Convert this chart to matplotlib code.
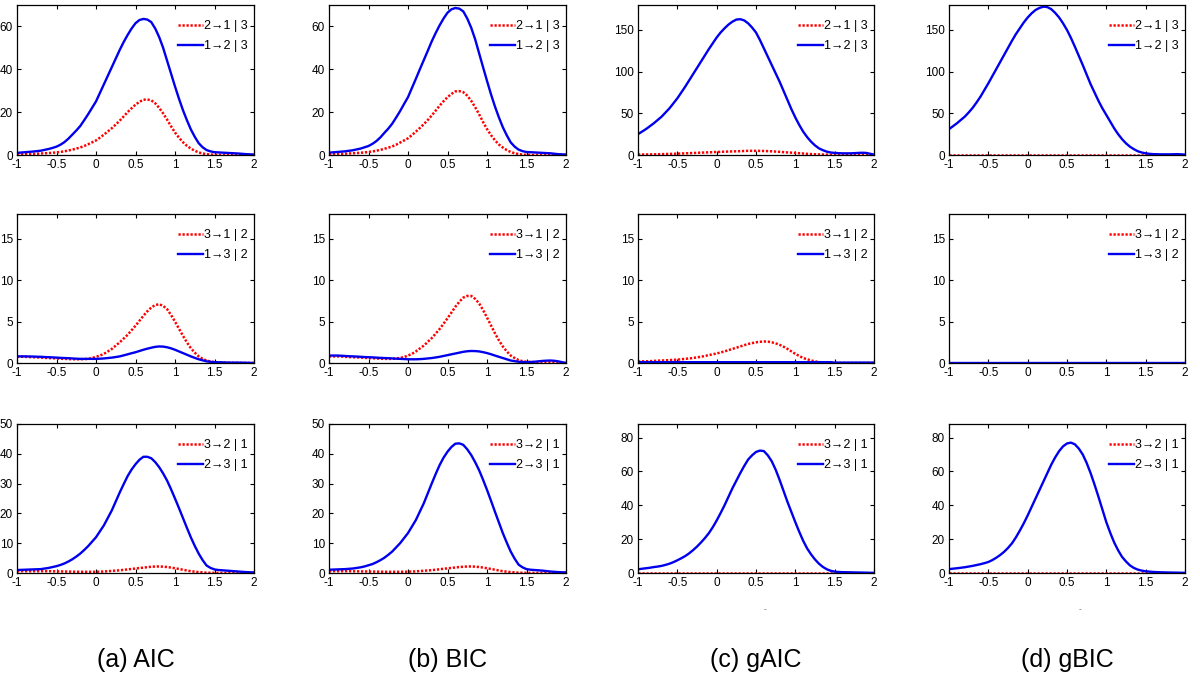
import numpy as np
import matplotlib
matplotlib.use('Agg')
import matplotlib.pyplot as plt

plt.rcParams['font.family'] = ['Liberation Sans Narrow', 'Liberation Sans', 'DejaVu Sans']

# abscisses communes (pas de 0.05)
x = np.round(np.linspace(-1.0, 2.0, 61), 2)

# ligne 1 : 2->1|3 (rouge) et 1->2|3 (bleu)
aic_213 = [0.3, 0.35, 0.4, 0.45, 0.5, 0.6, 0.7, 0.8, 0.9, 1.05,
           1.2, 1.45, 1.7, 2.1, 2.5, 3.0, 3.5, 4.2, 5.0, 5.9,
           6.8, 8.1, 9.5, 11, 12.5, 14.2, 16, 18, 20, 21.8,
           23.5, 24.8, 25.8, 25.9, 25.5, 24.1, 22, 19.4, 16.5, 13.4,
           10.5, 8.1, 6.0, 4.3, 3.0, 2.0, 1.2, 0.7, 0.4, 0.2,
           0.1, 0.05, 0, 0, 0, 0, 0, 0, 0, 0, 0]
aic_123 = [1.0, 1.15, 1.3, 1.45, 1.6, 1.8, 2.0, 2.4, 2.8, 3.3,
           3.9, 4.8, 6.0, 7.6, 9.5, 11.4, 13.5, 16.2, 19, 22,
           25, 29, 33, 37, 41, 45, 49, 52.7, 56, 59,
           61.5, 63, 63.5, 63.2, 62, 59, 55, 50, 44, 38,
           32, 26.3, 21, 16.3, 12, 8.5, 5.5, 3.6, 2.3, 1.7,
           1.3, 1.2, 1.1, 1.0, 0.9, 0.8, 0.7, 0.55, 0.4, 0.3, 0.2]
bic_213 = [0.35, 0.4, 0.45, 0.5, 0.6, 0.7, 0.8, 0.9, 1.05, 1.2,
           1.4, 1.65, 2.0, 2.4, 2.9, 3.4, 4.0, 4.8, 5.8, 6.8,
           7.8, 9.3, 10.9, 12.6, 14.4, 16.3, 18.4, 20.7, 23, 25.1,
           27, 28.5, 29.7, 29.8, 29.3, 27.7, 25.3, 22.3, 19, 15.4,
           12.1, 9.3, 6.9, 4.9, 3.5, 2.3, 1.4, 0.8, 0.45, 0.2,
           0.1, 0.05, 0, 0, 0, 0, 0, 0, 0, 0, 0]
bic_123 = [1.1, 1.25, 1.4, 1.55, 1.7, 1.95, 2.2, 2.6, 3.0, 3.6,
           4.2, 5.2, 6.5, 8.2, 10.3, 12.3, 14.6, 17.5, 20.5, 23.8,
           27, 31.3, 35.6, 40, 44.3, 48.6, 53, 56.9, 60.5, 63.7,
           66.4, 68, 68.6, 68.3, 67, 63.7, 59.4, 54, 47.5, 41,
           34.6, 28.4, 22.7, 17.6, 13, 9.2, 5.9, 3.9, 2.5, 1.8,
           1.4, 1.3, 1.2, 1.1, 1.0, 0.9, 0.8, 0.6, 0.4, 0.3, 0.2]
gaic_213 = [0.5, 0.55, 0.6, 0.7, 0.8, 0.9, 1.0, 1.15, 1.3, 1.45,
            1.6, 1.8, 2.0, 2.2, 2.4, 2.6, 2.8, 3.0, 3.2, 3.4,
            3.6, 3.8, 4.0, 4.15, 4.3, 4.45, 4.6, 4.8, 5.0, 5.0,
            5.0, 4.9, 4.8, 4.6, 4.4, 4.1, 3.8, 3.4, 3.1, 2.8,
            2.5, 2.1, 1.8, 1.4, 1.1, 0.9, 0.7, 0.55, 0.4, 0.35,
            0.3, 0.25, 0.2, 0.15, 0.1, 0.05, 0, 0, 0, 0, 0]
gaic_123 = [25, 28, 31, 34.5, 38, 42, 46, 51, 56, 62,
            68, 75, 82, 89.5, 97, 104.5, 112, 119.5, 127, 134,
            141, 147, 152, 156.5, 160, 162.5, 163, 161.5, 158, 153,
            147, 138, 128, 118, 108, 98, 88, 77, 66, 55,
            45, 36, 28, 21.5, 16, 11.5, 8, 5.8, 4, 3,
            2.5, 2.2, 2, 2, 2, 2.2, 2.5, 2.7, 2.5, 1.5, 0.5]
gbic_213 = [0] * 61
gbic_123 = [31, 34.5, 38, 42, 46, 51, 56.5, 63, 70, 78,
            86, 94.5, 103, 111.5, 120, 128.5, 137, 145, 152, 159,
            165, 170, 174, 176.5, 178, 177.5, 175, 170.5, 165, 158,
            150, 140.5, 130, 119, 108, 96.5, 85, 75, 65, 56,
            48, 40, 32, 25, 19, 14, 10, 7, 4.5, 3,
            2, 1.4, 1, 0.9, 0.8, 0.8, 0.8, 0.9, 1, 0.8, 0.5]

# ligne 2 : 3->1|2 (rouge) et 1->3|2 (bleu)
aic_312 = [0.75, 0.75, 0.75, 0.72, 0.7, 0.68, 0.65, 0.62, 0.6, 0.58,
           0.55, 0.52, 0.5, 0.48, 0.45, 0.45, 0.45, 0.47, 0.5, 0.6,
           0.75, 0.9, 1.1, 1.4, 1.7, 2.1, 2.5, 2.95, 3.4, 3.95,
           4.5, 5.1, 5.7, 6.25, 6.7, 7.0, 7.1, 6.9, 6.5, 5.8,
           5.0, 4.15, 3.3, 2.5, 1.8, 1.25, 0.8, 0.5, 0.3, 0.18,
           0.1, 0.07, 0.05, 0.03, 0.02, 0.01, 0, 0, 0, 0, 0]
aic_132 = [0.8, 0.8, 0.8, 0.79, 0.78, 0.76, 0.75, 0.72, 0.7, 0.68,
           0.65, 0.62, 0.6, 0.58, 0.55, 0.52, 0.5, 0.5, 0.5, 0.5,
           0.5, 0.52, 0.55, 0.6, 0.65, 0.72, 0.8, 0.92, 1.05, 1.18,
           1.3, 1.45, 1.6, 1.73, 1.85, 1.95, 2.0, 1.98, 1.9, 1.77,
           1.6, 1.4, 1.2, 1.0, 0.8, 0.62, 0.45, 0.32, 0.2, 0.14,
           0.1, 0.09, 0.08, 0.06, 0.05, 0.05, 0.05, 0.04, 0.03, 0.02, 0]
bic_312 = [0.8, 0.8, 0.8, 0.78, 0.75, 0.72, 0.7, 0.68, 0.65, 0.62,
           0.6, 0.58, 0.55, 0.52, 0.5, 0.5, 0.5, 0.55, 0.6, 0.72,
           0.9, 1.1, 1.4, 1.75, 2.1, 2.55, 3.0, 3.55, 4.1, 4.75,
           5.4, 6.1, 6.8, 7.4, 7.9, 8.1, 8.1, 7.75, 7.2, 6.4,
           5.5, 4.55, 3.6, 2.75, 2.0, 1.4, 0.9, 0.6, 0.35, 0.22,
           0.15, 0.12, 0.1, 0.1, 0.1, 0.1, 0.1, 0.08, 0.05, 0.03, 0]
bic_132 = [0.9, 0.9, 0.9, 0.88, 0.85, 0.82, 0.8, 0.78, 0.75, 0.72,
           0.7, 0.68, 0.65, 0.62, 0.6, 0.58, 0.55, 0.52, 0.5, 0.48,
           0.45, 0.45, 0.45, 0.47, 0.5, 0.55, 0.6, 0.67, 0.75, 0.85,
           0.95, 1.05, 1.15, 1.25, 1.35, 1.42, 1.45, 1.44, 1.4, 1.31,
           1.2, 1.06, 0.9, 0.75, 0.6, 0.45, 0.3, 0.22, 0.15, 0.12,
           0.1, 0.12, 0.15, 0.2, 0.25, 0.28, 0.3, 0.27, 0.2, 0.1, 0]
gaic_312 = [0.2, 0.2, 0.2, 0.22, 0.25, 0.28, 0.3, 0.32, 0.35, 0.38,
            0.4, 0.45, 0.5, 0.55, 0.6, 0.68, 0.75, 0.85, 0.95, 1.05,
            1.15, 1.28, 1.4, 1.55, 1.7, 1.85, 2.0, 2.15, 2.3, 2.4,
            2.5, 2.56, 2.6, 2.58, 2.5, 2.37, 2.2, 1.97, 1.7, 1.4,
            1.1, 0.85, 0.6, 0.45, 0.3, 0.2, 0.1, 0.05, 0, 0,
            0, 0, 0, 0, 0, 0, 0, 0, 0, 0, 0]
gaic_132 = [0.1] * 50 + [0.05] * 11
gbic_312 = [0] * 61
gbic_132 = [0] * 61

# ligne 3 : 3->2|1 (rouge) et 2->3|1 (bleu)
aic_321 = [0.6, 0.6, 0.6, 0.6, 0.6, 0.6, 0.6, 0.6, 0.6, 0.58,
           0.55, 0.52, 0.5, 0.48, 0.45, 0.42, 0.4, 0.4, 0.4, 0.4,
           0.4, 0.45, 0.5, 0.6, 0.7, 0.8, 0.9, 1.05, 1.2, 1.35,
           1.5, 1.65, 1.8, 1.95, 2.1, 2.17, 2.2, 2.12, 2.0, 1.82,
           1.6, 1.35, 1.1, 0.85, 0.6, 0.45, 0.3, 0.2, 0.1, 0.07,
           0.05, 0.03, 0, 0, 0, 0, 0, 0, 0, 0, 0]
aic_231 = [1.0, 1.05, 1.1, 1.15, 1.2, 1.25, 1.3, 1.5, 1.7, 2.0,
           2.3, 2.7, 3.2, 3.85, 4.6, 5.5, 6.5, 7.7, 9, 10.5,
           12, 14, 16, 18.5, 21, 24, 27, 29.8, 32.5, 34.7,
           36.5, 38, 39, 39, 38.5, 37.2, 35.5, 33.4, 31, 28.1,
           25, 21.8, 18.5, 15.2, 12, 9.1, 6.5, 4.3, 2.5, 1.7,
           1.2, 1.0, 0.9, 0.8, 0.7, 0.6, 0.5, 0.4, 0.3, 0.25, 0.2]
bic_321 = [0.6, 0.6, 0.6, 0.6, 0.6, 0.6, 0.58, 0.56, 0.55, 0.52,
           0.5, 0.48, 0.46, 0.44, 0.42, 0.4, 0.4, 0.4, 0.4, 0.42,
           0.45, 0.5, 0.55, 0.65, 0.75, 0.85, 0.95, 1.1, 1.25, 1.4,
           1.55, 1.7, 1.85, 2.0, 2.1, 2.17, 2.2, 2.12, 2.0, 1.82,
           1.6, 1.35, 1.1, 0.85, 0.6, 0.45, 0.3, 0.2, 0.1, 0.07,
           0.05, 0.03, 0, 0, 0, 0, 0, 0, 0, 0, 0]
bic_231 = [1.1, 1.15, 1.2, 1.25, 1.3, 1.4, 1.5, 1.7, 1.9, 2.2,
           2.6, 3.0, 3.6, 4.3, 5.1, 6.1, 7.2, 8.6, 10, 11.7,
           13.4, 15.6, 17.8, 20.6, 23.4, 26.7, 30, 33.2, 36.2, 38.7,
           40.7, 42.3, 43.4, 43.5, 43, 41.5, 39.6, 37.2, 34.5, 31.3,
           27.9, 24.3, 20.6, 17, 13.4, 10.2, 7.2, 4.8, 2.8, 1.9,
           1.3, 1.1, 1.0, 0.9, 0.8, 0.65, 0.5, 0.4, 0.3, 0.25, 0.2]
gaic_321 = [0] * 61
gaic_231 = [2.2, 2.5, 2.8, 3.1, 3.5, 3.8, 4.2, 4.8, 5.5, 6.4,
            7.5, 8.7, 10, 11.6, 13.5, 15.6, 18, 20.6, 23.5, 27,
            31, 35.4, 40, 45, 50, 54.5, 59, 63.2, 67, 69.5,
            71.5, 72.3, 72, 69.5, 66, 61, 55, 48.5, 42, 36,
            30, 24.3, 19, 14.5, 11, 8, 5.5, 3.6, 2.2, 1.3,
            0.8, 0.6, 0.5, 0.45, 0.4, 0.35, 0.3, 0.25, 0.2, 0.15, 0.1]
gbic_321 = [0] * 61
gbic_231 = [2.3, 2.55, 2.8, 3.1, 3.4, 3.8, 4.2, 4.7, 5.2, 5.8,
            6.5, 7.6, 9, 10.6, 12.5, 14.8, 17.5, 21, 25, 29.3,
            34, 39, 44, 49, 54, 59, 64, 68.3, 72, 74.8,
            76.5, 77, 76, 73.5, 70, 65, 59, 52.2, 45, 37.5,
            30, 23.7, 18, 13.4, 9.5, 6.8, 4.5, 3.0, 2.0, 1.4,
            1.0, 0.8, 0.6, 0.5, 0.4, 0.35, 0.3, 0.25, 0.2, 0.15, 0.1]

criteres = ['(a) AIC', '(b) BIC', '(c) gAIC', '(d) gBIC']
legendes = [('2\u21921 | 3', '1\u21922 | 3'),
            ('3\u21921 | 2', '1\u21923 | 2'),
            ('3\u21922 | 1', '2\u21923 | 1')]
rouges = [[aic_213, bic_213, gaic_213, gbic_213],
          [aic_312, bic_312, gaic_312, gbic_312],
          [aic_321, bic_321, gaic_321, gbic_321]]
bleus = [[aic_123, bic_123, gaic_123, gbic_123],
         [aic_132, bic_132, gaic_132, gbic_132],
         [aic_231, bic_231, gaic_231, gbic_231]]
ymax = [[70, 70, 180, 180],
        [18, 18, 18, 18],
        [50, 50, 88, 88]]
yticks = [[[0, 20, 40, 60], [0, 20, 40, 60], [0, 50, 100, 150], [0, 50, 100, 150]],
          [[0, 5, 10, 15]] * 4,
          [[0, 10, 20, 30, 40, 50], [0, 10, 20, 30, 40, 50], [0, 20, 40, 60, 80], [0, 20, 40, 60, 80]]]

W, H = 1200, 679
colonnes = [(17, 254), (329, 566), (638, 874), (949, 1185)]
lignes = [(5, 155), (214, 363), (424, 573)]

fig = plt.figure(figsize=(12, 6.79), dpi=100)

for i, (top, bot) in enumerate(lignes):
    for j, (gauche, droite) in enumerate(colonnes):
        ax = fig.add_axes([gauche / W, 1 - bot / H, (droite - gauche) / W, (bot - top) / H])
        ax.plot(x, rouges[i][j], color='red', linestyle=(0, (0.9, 0.7)), linewidth=1.8,
                label=legendes[i][0])
        ax.plot(x, bleus[i][j], color='#0000ee', linestyle='-', linewidth=1.7, label=legendes[i][1])
        ax.set_xlim(-1, 2)
        ax.set_ylim(0, ymax[i][j])
        ax.set_xticks([-1, -0.5, 0, 0.5, 1, 1.5, 2])
        ax.set_xticklabels(['-1', '-0.5', '0', '0.5', '1', '1.5', '2'])
        ax.set_yticks(yticks[i][j])
        ax.tick_params(direction='in', top=True, right=True, labelsize=8.5, length=3, width=0.8, pad=3)
        for s in ax.spines.values():
            s.set_linewidth(0.9)
        ax.legend(loc='upper right', bbox_to_anchor=(1.0, 0.94), frameon=False, fontsize=9,
                  handlelength=2.0, handletextpad=0.1, borderaxespad=0.1, labelspacing=0.65)
        if i == 2:
            ax.text(0.5, -0.585, criteres[j], transform=ax.transAxes,
                    ha='center', va='center', fontsize=18, family=['Liberation Sans', 'DejaVu Sans'])

fig.text(765 / W, 1 - 610 / H, '-', fontsize=6, ha='center', va='center', color='#555555')
fig.text(1080 / W, 1 - 610 / H, '-', fontsize=6, ha='center', va='center', color='#555555')

fig.savefig('out.png', dpi=100)
